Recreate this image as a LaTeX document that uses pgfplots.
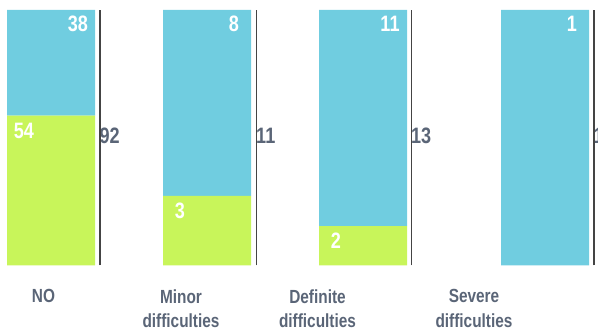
\documentclass[border=0pt]{standalone}
\usepackage{fontspec}
\setmainfont{Liberation Sans}[FakeStretch=0.81]
\usepackage{pgfplots}
\usepackage{pgfplotstable}
\pgfplotsset{compat=1.18}
\definecolor{cblue}{HTML}{70CDE0}
\definecolor{cgreen}{HTML}{C8F55A}
\definecolor{cslate}{HTML}{5A6577}
\definecolor{cline}{HTML}{444444}
\pgfplotstableread{
x   green blue total glabel blabel
51  54    38   92    54     38
207 3     8    11    3      8
363 2     11   13    2      11
545 0     1    1     {}     1
}\datatable
\newcommand\totline[3]{%
  \draw[cline, line width=1.2pt] (axis cs:#1,0) -- (axis cs:#1,100);
  \node[anchor=west, fill=white, inner xsep=1pt, inner ysep=7pt, text=cslate,
    font=\fontsize{22.3}{24}\selectfont\bfseries] at (axis cs:#2,50.9) {#3};
}
\begin{document}
\begin{tikzpicture}
\begin{axis}[
  x=1pt, y=2.555pt,
  xmin=0, xmax=598, ymin=0, ymax=100,
  enlargelimits=false, clip=false,
  ybar stacked, bar width=88,
  axis line style={draw=none},
  tick style={draw=none},
  ytick=\empty,
  xtick={43.5,181,317.5,474},
  xticklabels={NO, Minor\\difficulties, Definite\\difficulties, Severe\\difficulties},
  xticklabel style={align=center, anchor=north, inner sep=0pt, yshift=-24pt,
    font=\fontsize{19}{24.5}\selectfont\bfseries, text=cslate},
  point meta=explicit symbolic,
  nodes near coords,
  every node near coord/.style={anchor=center, text=white,
    font=\fontsize{22.3}{24}\selectfont\bfseries},
]
\addplot[fill=cgreen, draw=none,
  visualization depends on={\thisrow{green}/\thisrow{total}*100 \as \segh},
  every node near coord/.append style={xshift=-27pt, yshift={\segh*1.2775-15}}]
  table[x=x, y expr=\thisrow{green}/\thisrow{total}*100, meta=glabel] {\datatable};
\addplot[fill=cblue, draw=none,
  visualization depends on={\thisrow{blue}/\thisrow{total}*100 \as \segh},
  every node near coord/.append style={xshift=27pt, yshift={\segh*1.2775-14}}]
  table[x=x, y expr=\thisrow{blue}/\thisrow{total}*100, meta=blabel] {\datatable};
\totline{100}{98.5}{92}
\totline{256.5}{255}{11}
\totline{411.5}{410}{13}
\totline{594}{592.5}{1}
\coordinate (BL) at (axis cs:0,-26.81);
\coordinate (TR) at (axis cs:598,103.91);
\end{axis}
\pgfresetboundingbox
\useasboundingbox (BL) rectangle (TR);
\end{tikzpicture}
\end{document}
